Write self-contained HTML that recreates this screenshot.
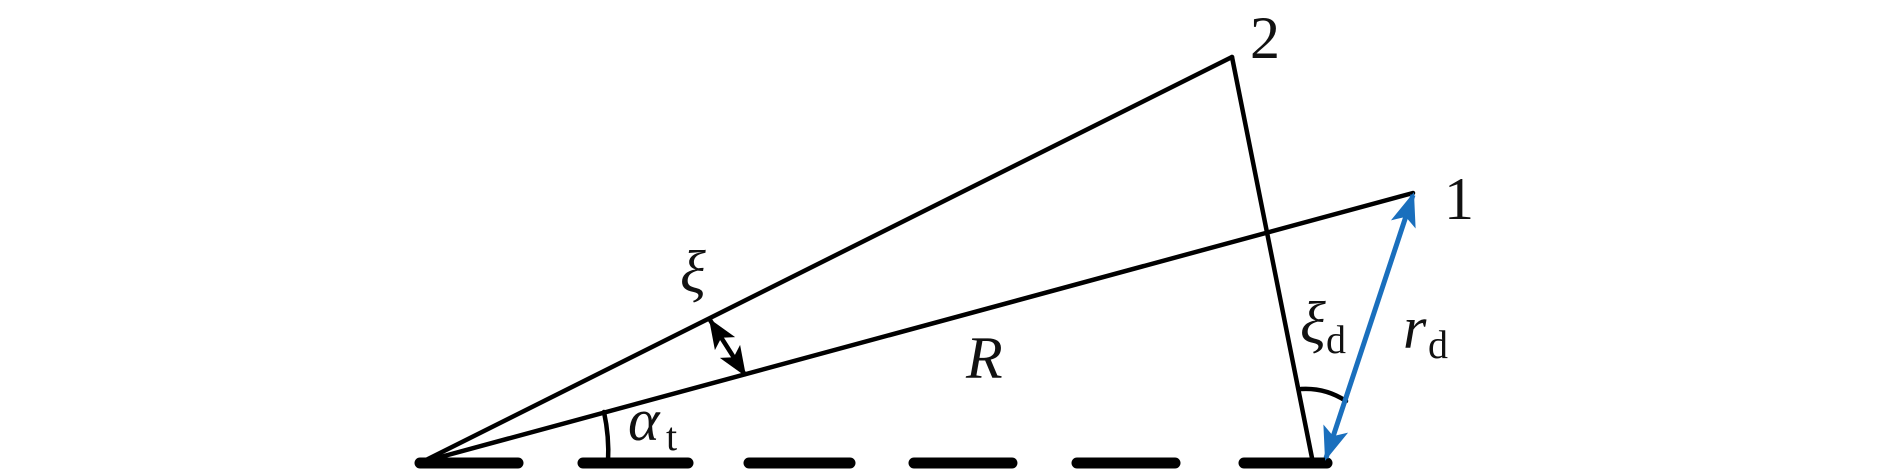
<!DOCTYPE html>
<html><head><meta charset="utf-8"><style>
html,body{margin:0;padding:0;background:#fff;}
svg{display:block;}
text{font-family:"Liberation Serif","DejaVu Serif",serif;fill:#111;}
</style></head><body>
<svg width="1890" height="473" viewBox="0 0 1890 473" xmlns="http://www.w3.org/2000/svg">
<defs>
<marker id="bb" markerWidth="34" markerHeight="34" refX="31" refY="17" orient="auto-start-reverse" markerUnits="userSpaceOnUse" viewBox="0 0 34 34">
<path d="M0,4 L34,17 L0,30 L8,17 Z" fill="#1a6fbd"/></marker>
<marker id="kb" markerWidth="30" markerHeight="30" refX="28" refY="15" orient="auto-start-reverse" markerUnits="userSpaceOnUse" viewBox="0 0 30 30">
<path d="M0,3 L30,15 L0,27 L7,15 Z" fill="#000"/></marker>
</defs>
<g stroke="#000" stroke-width="4.5" fill="none" stroke-linecap="round">
<line x1="422" y1="462" x2="1232" y2="57"/>
<line x1="422" y1="462" x2="1413" y2="193"/>
<line x1="1232" y1="57" x2="1313" y2="463"/>
<path d="M604,412 A186,186 0 0 1 608,462"/>
<path d="M1301,389 A74,74 0 0 1 1346,401"/>
</g>
<g stroke="#000" stroke-width="11" stroke-linecap="round">
<line x1="420" y1="463" x2="518" y2="463"/>
<line x1="583" y1="463" x2="688" y2="463"/>
<line x1="749" y1="463" x2="850" y2="463"/>
<line x1="914" y1="463" x2="1012" y2="463"/>
<line x1="1077" y1="463" x2="1175" y2="463"/>
<line x1="1244" y1="463" x2="1327" y2="463"/>
</g>
<line x1="710" y1="320" x2="745" y2="375" stroke="#000" stroke-width="4.5" marker-start="url(#kb)" marker-end="url(#kb)"/>
<line x1="1326" y1="458" x2="1413" y2="195" stroke="#1a6fbd" stroke-width="5" marker-start="url(#bb)" marker-end="url(#bb)"/>
<text x="1250" y="58" font-size="60">2</text>
<text x="1444" y="219" font-size="60">1</text>
<text x="680" y="292" font-size="60" font-style="italic">ξ</text>
<text x="966" y="378" font-size="60" font-style="italic">R</text>
<text x="628" y="440" font-size="60" font-style="italic">α</text>
<text x="666" y="450" font-size="40">t</text>
<text x="1300" y="343" font-size="60" font-style="italic">ξ</text>
<text x="1326" y="353" font-size="40">d</text>
<text x="1403" y="348" font-size="60" font-style="italic">r</text>
<text x="1428" y="358" font-size="40">d</text>
</svg>
</body></html>
